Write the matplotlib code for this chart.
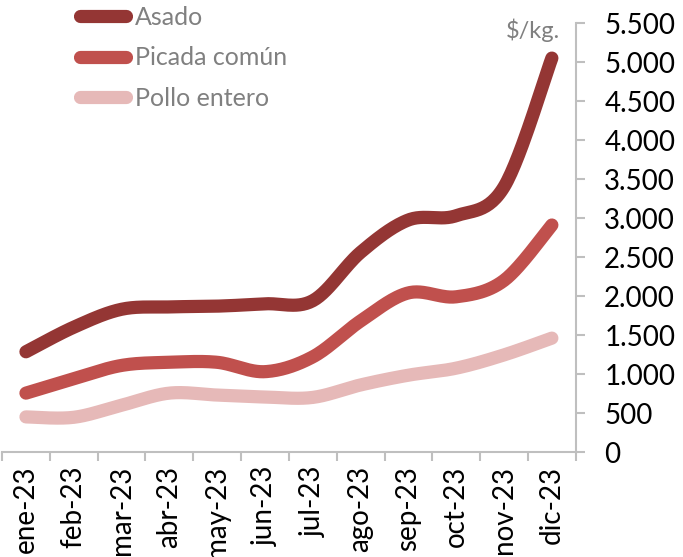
import numpy as np
import matplotlib
matplotlib.use("Agg")
import matplotlib.pyplot as plt
from matplotlib.lines import Line2D

months = ["ene-23", "feb-23", "mar-23", "abr-23", "may-23", "jun-23",
          "jul-23", "ago-23", "sep-23", "oct-23", "nov-23", "dic-23"]
asado = [1285, 1600, 1830, 1860, 1870, 1900, 1940, 2560, 2975, 3030, 3400, 5050]
picada = [755, 940, 1110, 1150, 1150, 1030, 1220, 1680, 2040, 1990, 2200, 2910]
pollo = [450, 445, 600, 755, 730, 705, 700, 860, 985, 1075, 1245, 1460]
series_names = ["Asado", "Picada común", "Pollo entero"]
colors = ["#943634", "#C0504D", "#E6B9B8"]
yticks = [0, 500, 1000, 1500, 2000, 2500, 3000, 3500, 4000, 4500, 5000, 5500]
ytick_labels = ["0", "500", "1.000", "1.500", "2.000", "2.500", "3.000",
                "3.500", "4.000", "4.500", "5.000", "5.500"]

FONT = "Lato"
plt.rcParams['font.family'] = [FONT, 'DejaVu Sans']


def smooth(x, y, n=30):
    """Excel-like smoothed line (Catmull-Rom bezier through the points)."""
    x = np.asarray(x, float)
    y = np.asarray(y, float)
    px = np.concatenate([[x[0]], x, [x[-1]]])
    py = np.concatenate([[y[0]], y, [y[-1]]])
    xs, ys = [], []
    t = np.linspace(0, 1, n)
    for i in range(1, len(px) - 2):
        p0 = np.array([px[i], py[i]])
        p3 = np.array([px[i + 1], py[i + 1]])
        c1 = p0 + (np.array([px[i + 1], py[i + 1]]) - np.array([px[i - 1], py[i - 1]])) / 6
        c2 = p3 - (np.array([px[i + 2], py[i + 2]]) - np.array([px[i], py[i]])) / 6
        b = ((1 - t) ** 3)[:, None] * p0 + (3 * (1 - t) ** 2 * t)[:, None] * c1 + \
            (3 * (1 - t) * t ** 2)[:, None] * c2 + (t ** 3)[:, None] * p3
        xs.extend(b[:, 0])
        ys.extend(b[:, 1])
    return np.array(xs), np.array(ys)


fig = plt.figure(figsize=(6.83, 5.57), dpi=100)
ax = fig.add_axes([0.003, 0.1885, 0.840, 0.7702])

x = np.arange(len(months))
handles = []
for vals, c, name in zip([asado, picada, pollo], colors, series_names):
    sx, sy = smooth(x, vals)
    ax.plot(sx, sy, color=c, lw=9.5, solid_capstyle='round', solid_joinstyle='round')
    handles.append(Line2D([], [], color=c, lw=9.5, solid_capstyle='round', label=name))

ax.set_xlim(-0.5, len(months) - 0.5)
ax.set_ylim(0, 5500)

grey = "#BFBFBF"
for s in ["left", "top"]:
    ax.spines[s].set_visible(False)
ax.spines["right"].set_color(grey)
ax.spines["bottom"].set_color(grey)
ax.spines["right"].set_linewidth(1.5)
ax.spines["bottom"].set_linewidth(1.5)

ax.yaxis.tick_right()
ax.set_yticks(yticks)
ax.set_yticklabels(ytick_labels)
ax.tick_params(axis='y', direction='out', length=6.5, width=1.5, color=grey,
               pad=14, labelsize=20, labelcolor='black')

ax.set_xticks(np.arange(len(months) + 1) - 0.5)
ax.set_xticklabels([])
ax.tick_params(axis='x', which='major', direction='out', length=6.5, width=1.5, color=grey)
ax.set_xticks(x, minor=True)
ax.set_xticklabels(months, minor=True, rotation=90)
ax.tick_params(axis='x', which='minor', length=0, pad=10, labelsize=20, labelcolor='black')

fig.text(560 / 683, 1 - 30 / 557, "$/kg.", ha='right', va='center', fontsize=17, color='#808080')

leg = fig.legend(handles=handles, loc='upper left', bbox_to_anchor=(70 / 683, 1 + 4 / 557),
                 frameon=False, fontsize=18, handlelength=1.84, handletextpad=0.36,
                 labelspacing=0.69, borderaxespad=0)
for t in leg.get_texts():
    t.set_color('#808080')

fig.savefig("out.png", dpi=100)
